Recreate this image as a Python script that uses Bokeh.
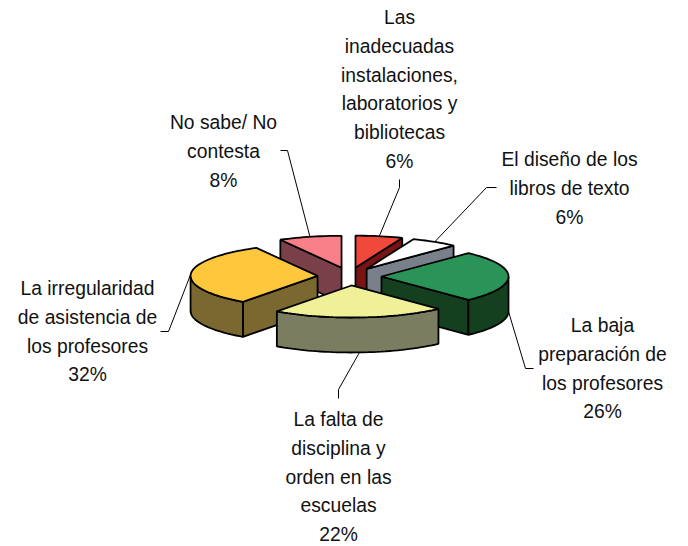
import math
from bokeh.plotting import figure
from bokeh.embed import file_html
from bokeh.resources import INLINE
from bokeh.core.properties import value

# Data, clockwise from 12 o'clock
slices = ["inadecuadas", "diseno", "baja", "falta", "irregularidad", "nosabe"]
percents = [6, 6, 26, 22, 32, 8]
label_lines = [
    ["Las", "inadecuadas", "instalaciones,", "laboratorios y", "bibliotecas", "6%"],
    ["El diseño de los", "libros de texto", "6%"],
    ["La baja", "preparación de", "los profesores", "26%"],
    ["La falta de", "disciplina y", "orden en las", "escuelas", "22%"],
    ["La irregularidad", "de asistencia de", "los profesores", "32%"],
    ["No sabe/ No", "contesta", "8%"],
]
top_colors = ["#F0483A", "#FFFFFF", "#2A9458", "#F0F098", "#FFC83C", "#F98088"]
side_colors = ["#7A1414", "#7A808A", "#154020", "#7A7D60", "#7A6830", "#7A404A"]

# Layout (page pixels)
CX, CY = 349, 276
RX, RY = 127, 32
EX, EY = 32, 9
DEPTH = 35
LINE_H = 28.8
FONT = "19.3px"
label_pos = [(399, 17), (569, 159), (602, 325), (338, 419), (87, 288), (223, 122)]
leader_elbows = [
    [(399, 187), (399, 179)],
    [(486, 187), (496, 187)],
    [(525, 368), (533, 368)],
    [(338, 389), (338, 398)],
    [(168, 331), (160, 331)],
    [(287, 150), (280, 150)],
]
draw_order = [5, 0, 1, 4, 2, 3]

W, H = 688, 546
p = figure(width=W, height=H, x_range=(0, W), y_range=(H, 0),
           output_backend="svg", toolbar_location=None, min_border=0,
           outline_line_color=None, background_fill_color="white")
p.axis.visible = False
p.grid.visible = False

total = sum(percents)
angles = [0]
for v in percents:
    angles.append(angles[-1] + v * 360 / total)


def arc(cx, cy, a0, a1, dz=0):
    n = max(2, int(abs(a1 - a0) / 2) + 1)
    xs, ys = [], []
    for i in range(n + 1):
        a = math.radians(a0 + (a1 - a0) * i / n)
        xs.append(cx + RX * math.sin(a))
        ys.append(cy - RY * math.cos(a) + dz)
    return xs, ys


def apex(mid):
    m = math.radians(mid)
    return CX + EX * math.sin(m), CY - EY * math.cos(m)


LW = 1.8
for i in draw_order:
    a0, a1 = angles[i], angles[i + 1]
    mid = (a0 + a1) / 2
    ax, ay = apex(mid)
    for a, vis in ((a0, math.sin(math.radians(a0)) < -1e-9), (a1, math.sin(math.radians(a1)) > 1e-9)):
        if vis:
            ex = ax + RX * math.sin(math.radians(a))
            ey = ay - RY * math.cos(math.radians(a))
            p.patch([ax, ex, ex, ax], [ay, ey, ey + DEPTH, ay + DEPTH],
                    fill_color=side_colors[i], line_color="black", line_width=LW)
    s, e = max(a0, 90), min(a1, 270)
    if s < e:
        xs, ys = arc(ax, ay, s, e)
        xb, yb = arc(ax, ay, s, e, DEPTH)
        p.patch(xs + xb[::-1], ys + yb[::-1], fill_color=side_colors[i],
                line_color="black", line_width=LW)
    xs, ys = arc(ax, ay, a0, a1)
    p.patch([ax] + xs, [ay] + ys, fill_color=top_colors[i], line_color="black", line_width=LW)

for i, lines in enumerate(label_lines):
    a0, a1 = angles[i], angles[i + 1]
    mid = (a0 + a1) / 2
    ax, ay = apex(mid)
    m = math.radians(mid)
    sx = ax + RX * math.sin(m)
    sy = ay - RY * math.cos(m)
    if 90 <= mid <= 180:
        sy += DEPTH
    el = leader_elbows[i]
    p.line([sx] + [q[0] for q in el], [sy] + [q[1] for q in el], line_color="black", line_width=1)
    lx, ly = label_pos[i]
    p.text([lx] * len(lines), [ly + LINE_H * k for k in range(len(lines))], text=lines,
           text_align="center", text_baseline="middle", text_color="#111111",
           text_font=value("Liberation Sans"), text_font_size=value(FONT))

open("out.html", "w").write(file_html(p, INLINE))
